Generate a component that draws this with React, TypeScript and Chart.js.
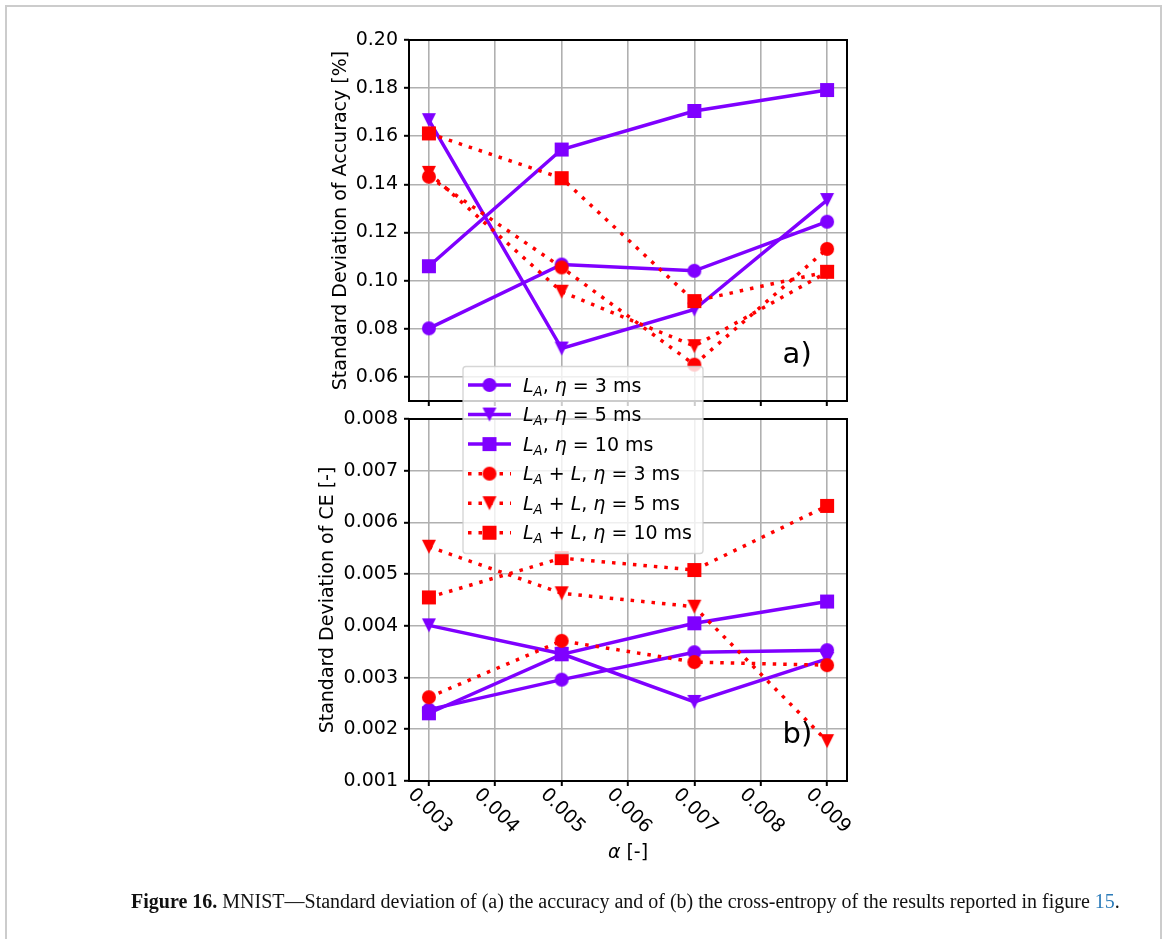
import React, { useEffect, useRef } from 'react';
import { Chart, registerables } from 'chart.js';

Chart.register(...registerables);

// ---------------- data ----------------
const alphaValues = [0.003, 0.005, 0.007, 0.009];
const xTickValues = [0.003, 0.004, 0.005, 0.006, 0.007, 0.008, 0.009];
const xTickLabels = ['0.003', '0.004', '0.005', '0.006', '0.007', '0.008', '0.009'];

const accTickValues = [0.06, 0.08, 0.1, 0.12, 0.14, 0.16, 0.18, 0.2];
const accTickLabels = ['0.06', '0.08', '0.10', '0.12', '0.14', '0.16', '0.18', '0.20'];
const ceTickValues = [0.001, 0.002, 0.003, 0.004, 0.005, 0.006, 0.007, 0.008];
const ceTickLabels = ['0.001', '0.002', '0.003', '0.004', '0.005', '0.006', '0.007', '0.008'];

const seriesLabels = [
  'L_A, η = 3 ms',
  'L_A, η = 5 ms',
  'L_A, η = 10 ms',
  'L_A + L, η = 3 ms',
  'L_A + L, η = 5 ms',
  'L_A + L, η = 10 ms',
];

// (a) standard deviation of accuracy [%]
const accLA3 = [0.0802, 0.1067, 0.1041, 0.1245];
const accLA5 = [0.1667, 0.0718, 0.088, 0.1335];
const accLA10 = [0.106, 0.1545, 0.1705, 0.1792];
const accLAL3 = [0.1432, 0.1055, 0.0651, 0.1132];
const accLAL5 = [0.1448, 0.0954, 0.0728, 0.1035];
const accLAL10 = [0.1612, 0.1426, 0.0915, 0.1037];

// (b) standard deviation of CE [-]
const ceLA3 = [0.00238, 0.00296, 0.00349, 0.00353];
const ceLA5 = [0.00401, 0.00346, 0.00253, 0.00336];
const ceLA10 = [0.00231, 0.00345, 0.00405, 0.00447];
const ceLAL3 = [0.00262, 0.00371, 0.0033, 0.00324];
const ceLAL5 = [0.00553, 0.00463, 0.00437, 0.00177];
const ceLAL10 = [0.00455, 0.00531, 0.00508, 0.00632];

// ---------------- styles ----------------
const PURPLE = '#7f00ff';
const RED = '#ff0000';
const GRID = '#b0b0b0';
const FONT = '"DejaVu Sans"';
const seriesColors = [PURPLE, PURPLE, PURPLE, RED, RED, RED];
const seriesDotted = [false, false, false, true, true, true];
const seriesMarkers = ['circle', 'triangle', 'square', 'circle', 'triangle', 'square'];
const LINE_W = 3.5;
const DOT_DASH = [3.5, 7];

function makeMarker(shape: string, color: string): HTMLCanvasElement {
  const c = document.createElement('canvas');
  c.width = 18;
  c.height = 18;
  const g = c.getContext('2d')!;
  g.fillStyle = color;
  g.beginPath();
  if (shape === 'circle') {
    g.arc(9, 9, 7, 0, Math.PI * 2);
  } else if (shape === 'square') {
    g.rect(2, 2, 14, 14);
  } else {
    g.moveTo(2, 2);
    g.lineTo(16, 2);
    g.lineTo(9, 16);
    g.closePath();
  }
  g.fill();
  return c;
}

function drawMathLabel(ctx: CanvasRenderingContext2D, label: string, x: number, baseline: number) {
  let cx = x;
  ctx.fillStyle = '#000';
  ctx.textAlign = 'left';
  ctx.textBaseline = 'alphabetic';
  for (let i = 0; i < label.length; i++) {
    const ch = label[i];
    if (ch === '_') {
      const s = label[++i];
      ctx.font = `italic 13.3px ${FONT}`;
      ctx.fillText(s, cx, baseline + 4);
      cx += ctx.measureText(s).width;
      continue;
    }
    const italic = ch === 'L' || ch === 'η';
    ctx.font = `${italic ? 'italic ' : ''}19px ${FONT}`;
    ctx.fillText(ch, cx, baseline);
    cx += ctx.measureText(ch).width;
  }
}

function buildDatasets(values: number[][], markers: HTMLCanvasElement[]) {
  return values.map((vals, i) => ({
    label: seriesLabels[i],
    data: alphaValues.map((x, j) => ({ x, y: vals[j] })),
    borderColor: seriesColors[i],
    backgroundColor: seriesColors[i],
    borderWidth: LINE_W,
    borderDash: seriesDotted[i] ? DOT_DASH : [],
    borderCapStyle: 'butt',
    pointStyle: markers[i],
    pointRadius: 7,
    pointHoverRadius: 7,
    pointBorderWidth: 0,
    tension: 0,
    fill: false,
    order: values.length - 1 - i,
  }));
}

function xScale() {
  return {
    type: 'linear',
    min: 0.0027,
    max: 0.0093,
    afterBuildTicks: (s: any) => {
      s.ticks = xTickValues.map((value) => ({ value }));
    },
    ticks: { display: false },
    grid: { color: GRID, lineWidth: 1.6, drawTicks: true, tickLength: 5, tickColor: '#000', tickWidth: 2 },
    border: { display: false },
    afterFit: (s: any) => {
      s.height = 5;
    },
  };
}

function yScale(min: number, max: number, vals: number[], labels: string[], title: string, width: number) {
  return {
    type: 'linear',
    min,
    max,
    afterBuildTicks: (s: any) => {
      s.ticks = vals.map((value) => ({ value }));
    },
    ticks: {
      callback: (_v: any, i: number) => labels[i],
      font: { size: 19, family: FONT },
      color: '#000',
      padding: 6,
      autoSkip: false,
    },
    title: { display: true, text: title, font: { size: 19, family: FONT }, color: '#000', padding: 0 },
    grid: { color: GRID, lineWidth: 1.6, drawTicks: true, tickLength: 5, tickColor: '#000', tickWidth: 2 },
    border: { display: false },
    afterFit: (s: any) => {
      s.width = width;
    },
  };
}

function framePlugin(letter: string) {
  return {
    id: 'frame' + letter,
    afterDatasetsDraw(chart: any) {
      const { ctx, chartArea: a } = chart;
      ctx.save();
      ctx.strokeStyle = '#000';
      ctx.lineWidth = 2;
      ctx.setLineDash([]);
      ctx.strokeRect(a.left, a.top, a.right - a.left, a.bottom - a.top);
      ctx.fillStyle = '#000';
      ctx.font = `29px ${FONT}`;
      ctx.textAlign = 'left';
      ctx.textBaseline = 'alphabetic';
      const w = a.right - a.left;
      const h = a.bottom - a.top;
      ctx.fillText(letter, a.left + 0.853 * w, a.bottom - 0.105 * h);
      ctx.restore();
    },
  };
}

function legendPlugin(markers: HTMLCanvasElement[]) {
  return {
    id: 'mplLegend',
    afterDraw(chart: any) {
      const { ctx } = chart;
      const bx = 463;
      const by = 366.5;
      const bw = 240;
      const bh = 187;
      ctx.save();
      ctx.beginPath();
      const r = 3;
      ctx.moveTo(bx + r, by);
      ctx.arcTo(bx + bw, by, bx + bw, by + bh, r);
      ctx.arcTo(bx + bw, by + bh, bx, by + bh, r);
      ctx.arcTo(bx, by + bh, bx, by, r);
      ctx.arcTo(bx, by, bx + bw, by, r);
      ctx.closePath();
      ctx.fillStyle = 'rgba(255,255,255,0.8)';
      ctx.fill();
      ctx.strokeStyle = 'rgba(204,204,204,0.8)';
      ctx.lineWidth = 1.4;
      ctx.stroke();
      seriesLabels.forEach((label, i) => {
        const y = 385 + i * 29.55;
        ctx.beginPath();
        ctx.strokeStyle = seriesColors[i];
        ctx.lineWidth = LINE_W;
        ctx.lineCap = 'butt';
        ctx.setLineDash(seriesDotted[i] ? DOT_DASH : []);
        ctx.moveTo(468, y);
        ctx.lineTo(511, y);
        ctx.stroke();
        ctx.setLineDash([]);
        const m = markers[i];
        ctx.drawImage(m, 489.5 - m.width / 2, y - m.height / 2);
        drawMathLabel(ctx, label, 523, y + 6.5);
      });
      ctx.restore();
    },
  };
}

const xLabelPlugin = {
  id: 'xLabels',
  afterDraw(chart: any) {
    const { ctx, chartArea: a } = chart;
    const xs = chart.scales.x;
    ctx.save();
    ctx.fillStyle = '#000';
    ctx.font = `19px ${FONT}`;
    ctx.textAlign = 'center';
    ctx.textBaseline = 'middle';
    xTickValues.forEach((v, i) => {
      const px = xs.getPixelForValue(v);
      ctx.save();
      ctx.translate(px + 1, a.bottom + 30);
      ctx.rotate(Math.PI / 4);
      ctx.fillText(xTickLabels[i], 0, 0);
      ctx.restore();
    });
    // axis title: italic alpha + " [-]"
    ctx.textAlign = 'left';
    ctx.textBaseline = 'alphabetic';
    ctx.font = `italic 19px ${FONT}`;
    const w1 = ctx.measureText('α').width;
    ctx.font = `19px ${FONT}`;
    const w2 = ctx.measureText(' [-]').width;
    const cx = (a.left + a.right) / 2;
    const start = cx - (w1 + w2) / 2;
    ctx.font = `italic 19px ${FONT}`;
    ctx.fillText('α', start, a.bottom + 77);
    ctx.font = `19px ${FONT}`;
    ctx.fillText(' [-]', start + w1, a.bottom + 77);
    ctx.restore();
  },
};

const W = 1166;
const H = 939;

export default function App() {
  const refA = useRef<HTMLCanvasElement>(null);
  const refB = useRef<HTMLCanvasElement>(null);

  useEffect(() => {
    Chart.defaults.font.family = FONT;
    const markers = seriesMarkers.map((s, i) => makeMarker(s, seriesColors[i]));

    const common = {
      responsive: false,
      animation: false,
      devicePixelRatio: 1,
      events: [],
      plugins: { legend: { display: false }, tooltip: { enabled: false } },
    };

    const chartB = new Chart(refB.current!, {
      type: 'line',
      data: {
        datasets: buildDatasets([ceLA3, ceLA5, ceLA10, ceLAL3, ceLAL5, ceLAL10], markers) as any,
      },
      options: {
        ...common,
        layout: { padding: { left: 317, top: 419, right: 319, bottom: 153 } },
        scales: {
          x: xScale() as any,
          y: yScale(0.001, 0.008, ceTickValues, ceTickLabels, 'Standard Deviation of CE [-]', 92) as any,
        },
      } as any,
      plugins: [framePlugin('b)'), xLabelPlugin],
    });

    const chartA = new Chart(refA.current!, {
      type: 'line',
      data: {
        datasets: buildDatasets([accLA3, accLA5, accLA10, accLAL3, accLAL5, accLAL10], markers) as any,
      },
      options: {
        ...common,
        layout: { padding: { left: 330, top: 40, right: 319, bottom: 533 } },
        scales: {
          x: xScale() as any,
          y: yScale(0.05, 0.2, accTickValues, accTickLabels, 'Standard Deviation of Accuracy [%]', 79) as any,
        },
      } as any,
      plugins: [framePlugin('a)'), legendPlugin(markers)],
    });

    return () => {
      chartA.destroy();
      chartB.destroy();
    };
  }, []);

  return (
    <div style={{ position: 'absolute', left: 0, top: 0, width: W, height: H, overflow: 'hidden', background: '#fff' }}>
      <div
        style={{
          position: 'absolute',
          left: 5,
          top: 5,
          width: 1157,
          height: 1000,
          border: '2px solid #cccccc',
          boxSizing: 'border-box',
        }}
      />
      <canvas ref={refB} width={W} height={H} style={{ position: 'absolute', left: 0, top: 0, zIndex: 1 }} />
      <canvas ref={refA} width={W} height={H} style={{ position: 'absolute', left: 0, top: 0, zIndex: 2 }} />
      <div
        style={{
          position: 'absolute',
          left: 131,
          top: 890,
          zIndex: 3,
          whiteSpace: 'nowrap',
          fontFamily: '"Liberation Serif", serif',
          fontSize: 20,
          color: '#111',
        }}
      >
        <b>Figure 16.</b> MNIST—Standard deviation of (a) the accuracy and of (b) the cross-entropy of the results
        reported in figure <span style={{ color: '#2b7bb9' }}>15</span>.
      </div>
    </div>
  );
}
